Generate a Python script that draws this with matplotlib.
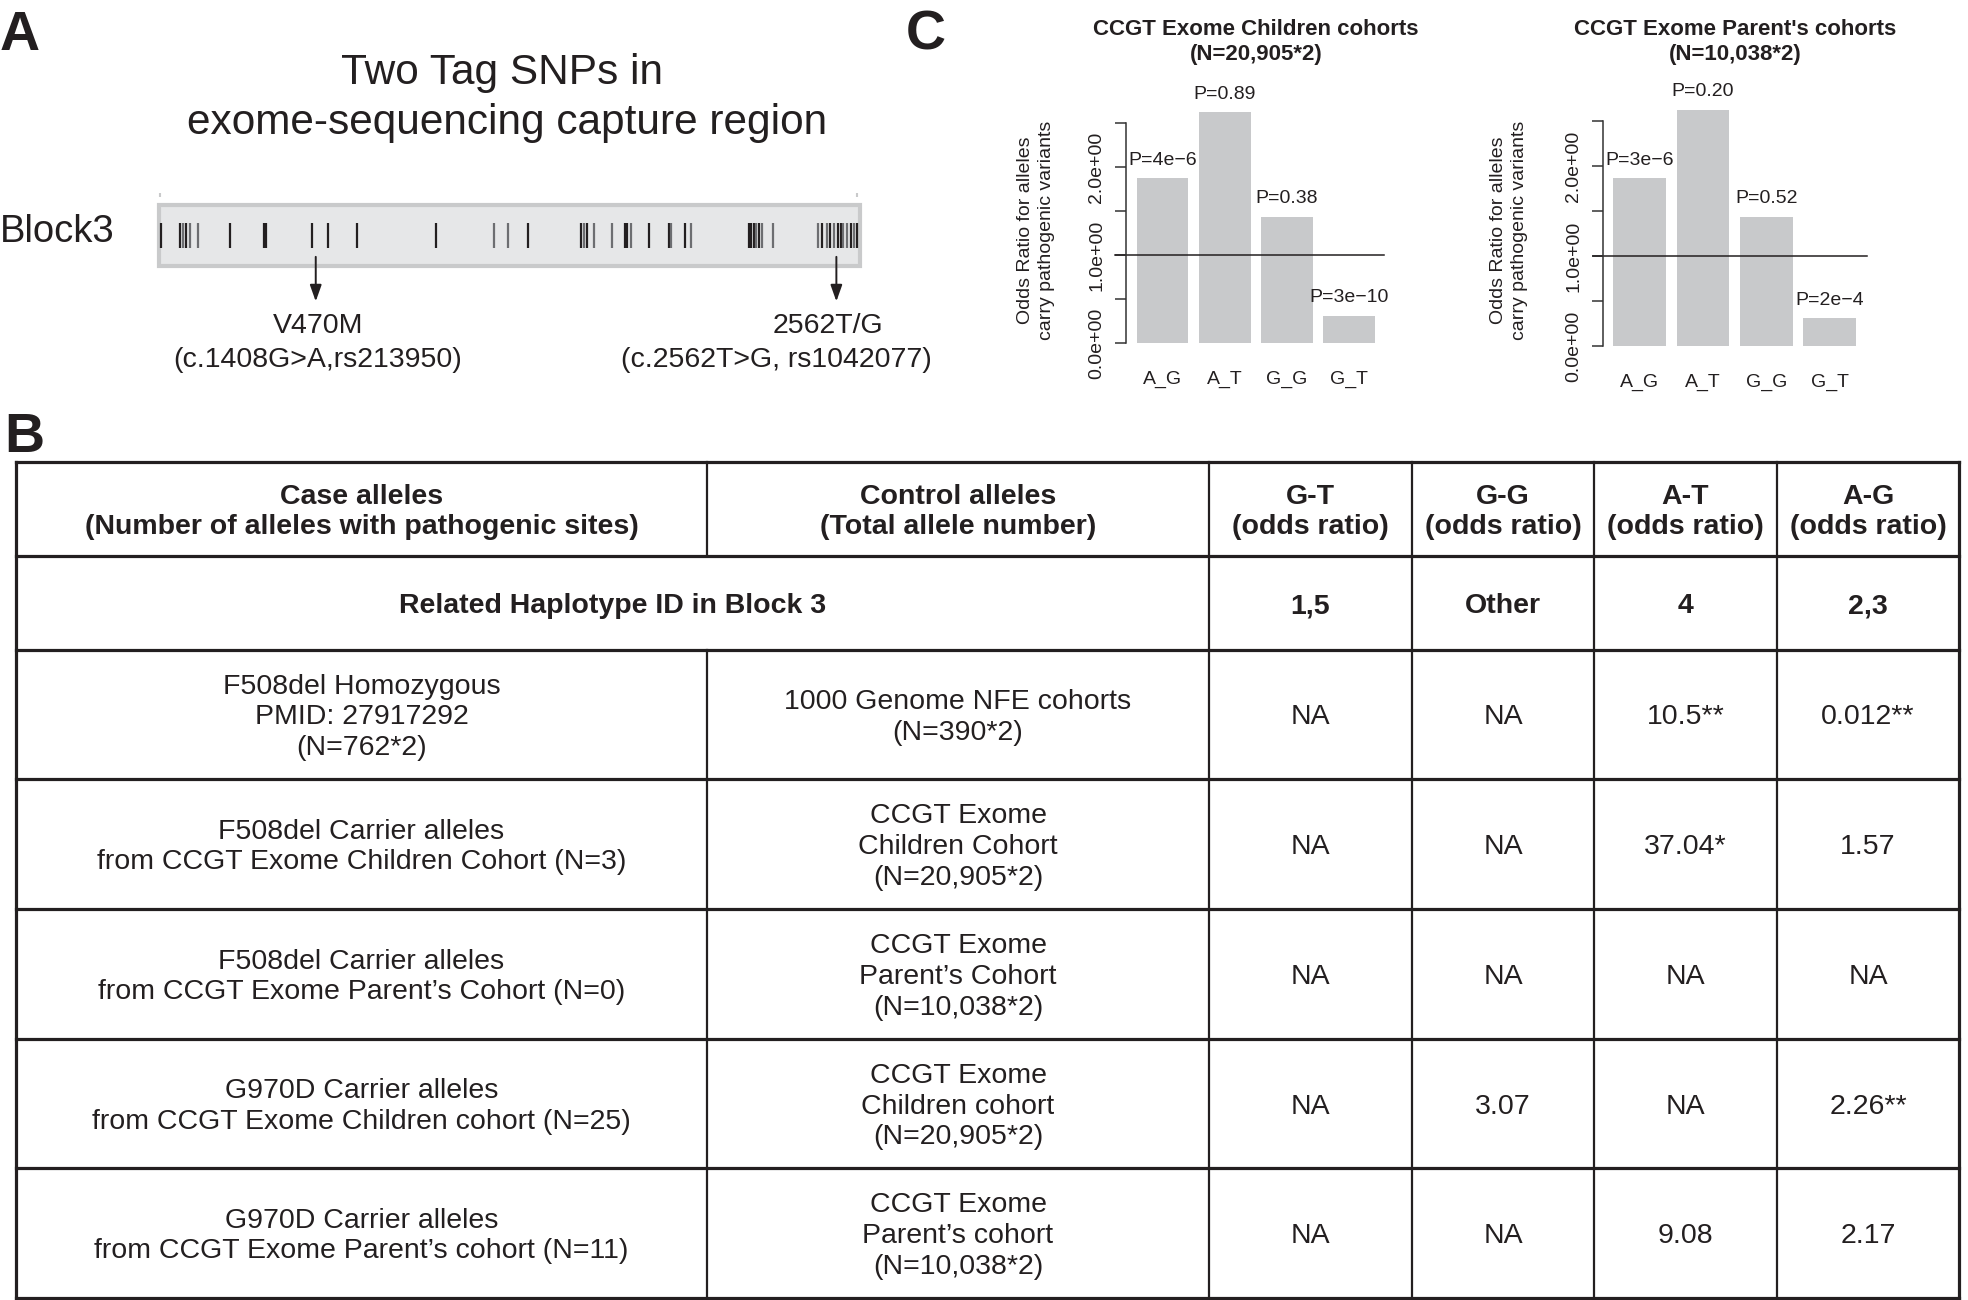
import matplotlib
matplotlib.use('Agg')
import matplotlib.pyplot as plt
import numpy as np

plt.rcParams['font.family'] = ['Liberation Sans', 'DejaVu Sans']
INK = '#231f20'

# ---------------- data ----------------
# Panel A: SNP positions along Block3 (relative 0-100 along the block)
snp_pos = [0.27, 2.96, 3.37, 3.84, 4.38, 5.52, 10.10, 15.02, 15.15, 15.29, 21.82, 24.11,
           28.28, 39.53, 47.81, 49.83, 52.66, 60.27, 60.61, 61.08, 62.09, 64.65, 66.53,
           66.80, 67.34, 69.90, 72.73, 73.06, 75.08, 75.96, 84.18, 84.51, 84.85, 85.19,
           85.66, 86.06, 87.54, 93.94, 94.61, 95.29, 95.76, 96.30, 96.84, 97.31, 97.64,
           98.11, 98.65, 99.13, 99.53]
snp_shade = ['d', 'd', 'g', 'd', 'g', 'g', 'd', 'd', 'd', 'd', 'd', 'd',
             'd', 'd', 'g', 'g', 'd', 'd', 'g', 'd', 'g', 'g', 'd',
             'd', 'g', 'd', 'd', 'g', 'd', 'g', 'd', 'd', 'd', 'g',
             'd', 'g', 'g', 'g', 'd', 'g', 'd', 'g', 'd', 'd', 'g',
             'g', 'd', 'g', 'd']
tag_pos = [22.36, 96.63]
tag_names = ['V470M', '2562T/G']
tag_details = ['(c.1408G>A,rs213950)', '(c.2562T>G, rs1042077)']

# Panel C
haplotypes = ['A_G', 'A_T', 'G_G', 'G_T']
children_or = [1.875, 2.625, 1.44, 0.31]
children_p = ['P=4e\u22126', 'P=0.89', 'P=0.38', 'P=3e\u221210']
parents_or = [1.863, 2.622, 1.433, 0.307]
parents_p = ['P=3e\u22126', 'P=0.20', 'P=0.52', 'P=2e\u22124']
yticks = [0, 0.5, 1.0, 1.5, 2.0, 2.5]
ytick_labels = ['0.0e+00', '', '1.0e+00', '', '2.0e+00', '']

# Panel B table
header = ['Case alleles\n(Number of alleles with pathogenic sites)',
          'Control alleles\n(Total allele number)',
          'G-T\n(odds ratio)', 'G-G\n(odds ratio)', 'A-T\n(odds ratio)', 'A-G\n(odds ratio)']
hap_row_label = 'Related Haplotype ID in Block 3'
hap_ids = ['1,5', 'Other', '4', '2,3']
case_alleles = ['F508del Homozygous\nPMID: 27917292\n(N=762*2)',
                'F508del Carrier alleles\nfrom CCGT Exome Children Cohort (N=3)',
                'F508del Carrier alleles\nfrom CCGT Exome Parent\u2019s Cohort (N=0)',
                'G970D Carrier alleles\nfrom CCGT Exome Children cohort (N=25)',
                'G970D Carrier alleles\nfrom CCGT Exome Parent\u2019s cohort (N=11)']
control_alleles = ['1000 Genome NFE cohorts\n(N=390*2)',
                   'CCGT Exome\nChildren Cohort\n(N=20,905*2)',
                   'CCGT Exome\nParent\u2019s Cohort\n(N=10,038*2)',
                   'CCGT Exome\nChildren cohort\n(N=20,905*2)',
                   'CCGT Exome\nParent\u2019s cohort\n(N=10,038*2)']
or_GT = ['NA', 'NA', 'NA', 'NA', 'NA']
or_GG = ['NA', 'NA', 'NA', '3.07', 'NA']
or_AT = ['10.5**', '37.04*', 'NA', 'NA', '9.08']
or_AG = ['0.012**', '1.57', 'NA', '2.26**', '2.17']

# ---------------- figure ----------------
W, H = 1968, 1300
fig = plt.figure(figsize=(W / 100, H / 100), dpi=100)


def px_axes(x0, y0, x1, y1):
    return fig.add_axes([x0 / W, 1 - y1 / H, (x1 - x0) / W, (y1 - y0) / H])


base = fig.add_axes([0, 0, 1, 1])
base.set_xlim(0, W)
base.set_ylim(H, 0)
base.axis('off')

# panel letters
for lab, x, y in [('A', 0, 50), ('B', 4, 452), ('C', 906, 50)]:
    base.text(x, y, lab, fontsize=40, fontweight='bold', color=INK, va='baseline', ha='left')

# ---------------- Panel A ----------------
base.text(502, 73, 'Two Tag SNPs in', fontsize=30.5, ha='center', va='center', color=INK)
base.text(507, 123, 'exome-sequencing capture region', fontsize=30.5, ha='center', va='center', color=INK)
base.text(0, 232, 'Block3', fontsize=27.5, ha='left', va='center', color=INK)

bx = px_axes(159, 205, 860, 266)
bx.set_xlim(0, 100)
bx.set_ylim(0, 1)
bx.axis('off')
bx.add_patch(plt.Rectangle((0, 0), 1, 1, transform=bx.transAxes, facecolor='#e6e7e8',
                           edgecolor='#c9cacb', lw=3.0, clip_on=False))
cols = ['#231f20' if s == 'd' else '#6d6e71' for s in snp_shade]
bx.vlines(snp_pos, 0.295, 0.705, colors=cols, lw=1.6)
bx.vlines([0.15, 99.6], 1.13, 1.2, colors='#c9cacb', lw=1.5, clip_on=False)
for p in tag_pos:
    bx.annotate('', xy=(p, -0.58), xytext=(p, 0.15), annotation_clip=False,
                arrowprops=dict(arrowstyle='-|>,head_length=0.45,head_width=0.16', color=INK,
                                lw=1.4, mutation_scale=22, shrinkA=0, shrinkB=0))
TFS = 20.5
base.text(318, 326, tag_names[0], fontsize=TFS, ha='center', va='center', color=INK)
base.text(318, 360, tag_details[0], fontsize=TFS, ha='center', va='center', color=INK)
base.text(828, 326, tag_names[1], fontsize=TFS, ha='center', va='center', color=INK)
base.text(776, 360, tag_details[1], fontsize=TFS, ha='center', va='center', color=INK)

# ---------------- Panel C ----------------
def bar_panel(spine_x, first_center, pitch, zero_y, unit, right_x, hline_x0,
              vals, plabels, title, title_x, ylab_x):
    x0 = (spine_x - first_center) / pitch
    x1 = (right_x - first_center) / pitch
    top = 100
    ax = px_axes(spine_x, top, right_x, zero_y)
    ax.set_xlim(x0, x1)
    ax.set_ylim(0, (zero_y - top) / unit)
    x = np.arange(len(haplotypes))
    ax.bar(x, vals, width=0.833, color='#c8c9cb', edgecolor='none')
    for xi, v, p in zip(x, vals, plabels):
        ax.annotate(p, xy=(xi, v), xytext=(0, 13), textcoords='offset points',
                    ha='center', va='center', fontsize=14, color=INK)
    ax.axhline(1.0, xmin=(hline_x0 - spine_x) / (right_x - spine_x), xmax=1.0,
               color=INK, lw=1.1, clip_on=False)
    for s in ['top', 'right', 'bottom']:
        ax.spines[s].set_visible(False)
    ax.spines['left'].set_bounds(0, 2.5)
    ax.spines['left'].set_color('#333333')
    ax.spines['left'].set_linewidth(1.1)
    ax.set_yticks(yticks)
    ax.set_yticklabels(ytick_labels, rotation=90, va='center', fontsize=14, color=INK)
    ax.tick_params(axis='y', length=8, width=1.1, color='#333333', pad=7)
    ax.set_xticks(x)
    ax.set_xticklabels(haplotypes, fontsize=14, color=INK)
    ax.tick_params(axis='x', length=0, pad=20)
    ax.patch.set_visible(False)
    base.text(title_x, 42, title, fontsize=16, fontweight='bold', ha='center', va='center',
              linespacing=1.25, color=INK)
    base.text(ylab_x, 230, 'Odds Ratio for alleles\ncarry pathogenic variants', fontsize=14,
              rotation=90, ha='center', va='center', linespacing=1.28, color=INK)
    return ax


bar_panel(1126, 1162.5, 62.2, 343.3, 88.0, 1384, 1115, children_or, children_p,
          'CCGT Exome Children cohorts\n(N=20,905*2)', 1256, 1036)
bar_panel(1603.3, 1639.7, 63.3, 346.0, 90.0, 1866.7, 1592.7, parents_or, parents_p,
          "CCGT Exome Parent's cohorts\n(N=10,038*2)", 1735, 1509)

# ---------------- Panel B table ----------------
col_edges = [16, 707, 1209, 1412, 1594, 1777, 1959]
row_edges = [462, 556, 650, 779, 909, 1039, 1168, 1298]
hlw, vlw = 2.3, 1.6
FS = 20.5

for y in row_edges:
    base.plot([col_edges[0], col_edges[-1]], [y, y], color=INK, lw=hlw, solid_capstyle='projecting')
for i, x in enumerate(col_edges):
    lw = hlw if i in (0, len(col_edges) - 1) else vlw
    if i == 1:
        base.plot([x, x], [row_edges[0], row_edges[1]], color=INK, lw=lw)
        base.plot([x, x], [row_edges[2], row_edges[-1]], color=INK, lw=lw)
    else:
        base.plot([x, x], [row_edges[0], row_edges[-1]], color=INK, lw=lw)


def cell(ci, ri, txt, bold=False, span=1):
    xc = (col_edges[ci] + col_edges[ci + span]) / 2
    yc = (row_edges[ri] + row_edges[ri + 1]) / 2 + 3
    base.text(xc, yc, txt, fontsize=FS, ha='center', va='center', color=INK,
              fontweight='bold' if bold else 'normal', linespacing=1.24, multialignment='center')


for ci, h in enumerate(header):
    cell(ci, 0, h, bold=True)
cell(0, 1, hap_row_label, bold=True, span=2)
for ci, h in enumerate(hap_ids):
    cell(ci + 2, 1, h, bold=True)
for ri in range(len(case_alleles)):
    row = [case_alleles[ri], control_alleles[ri], or_GT[ri], or_GG[ri], or_AT[ri], or_AG[ri]]
    for ci, t in enumerate(row):
        cell(ci, ri + 2, t)

fig.savefig('out.png', dpi=100)
